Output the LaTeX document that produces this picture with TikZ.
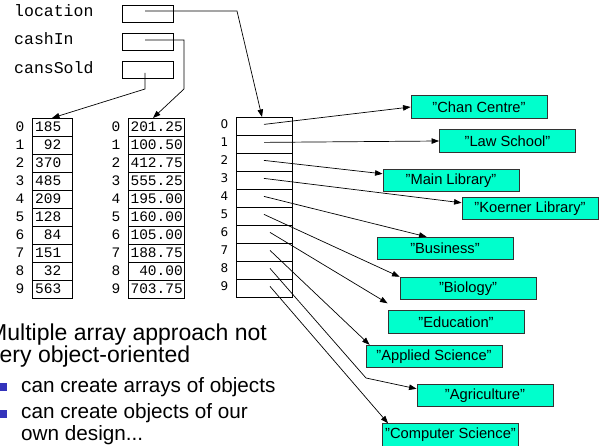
\documentclass[tikz,border=0pt]{standalone}
\usepackage{fontspec}
\setmainfont{Liberation Sans}
\setmonofont{Liberation Mono}
\newfontfamily\idxfont{DejaVu Sans}
\usetikzlibrary{arrows.meta}
\definecolor{strfill}{RGB}{0,255,204}
\definecolor{bulletblue}{RGB}{51,51,187}

\begin{document}
\begin{tikzpicture}[x=1pt, y=-1pt,
    cell/.style={draw=black, line width=0.8pt, minimum width=#1, minimum height=18pt, inner sep=0pt},
    varbox/.style={draw=black, line width=0.8pt, minimum width=51pt, minimum height=17pt, inner sep=0pt},
    mono/.style={font=\ttfamily\fontsize{14.5}{16}\selectfont, inner sep=0pt},
    varname/.style={font=\ttfamily\fontsize{16.5}{18}\selectfont, inner sep=0pt, anchor=base west},
    idx/.style={font=\idxfont\fontsize{12}{14}\selectfont, inner sep=0pt},
    strbox/.style={draw=black!80, line width=0.9pt, fill=strfill, minimum width=136pt, minimum height=22.5pt,
        inner sep=0pt, font=\fontsize{14.7}{16}\selectfont},
    ptr/.style={line width=0.7pt, -{Triangle[length=7.5pt, width=5.5pt]}},
    wire/.style={line width=0.7pt}]
    \useasboundingbox (0,0) rectangle (609,446);
    \clip (0,0) rectangle (609,446);

    % variables
    \node[varname] (nloc) at (14,17) {location};
    \node[varname] (ncash) at (14,45) {cashIn};
    \node[varname] (nsold) at (14,74) {cansSold};
    \node[varbox] (vloc) at (147.5,13.5) {};
    \node[varbox] (vcash) at (147.5,41.5) {};
    \node[varbox] (vsold) at (147.5,69.5) {};

    % the three arrays
    \foreach \i/\a/\b in {0/185/201.25, 1/92/100.50, 2/370/412.75, 3/485/555.25, 4/209/195.00,
                          5/128/160.00, 6/84/105.00, 7/151/188.75, 8/32/40.00, 9/563/703.75}{
        \node[cell=40pt, anchor=north] (c\i) at (52,118+18*\i) {};
        \node[mono, anchor=east] (cv\i) at (61.5,127+18*\i) {\a};
        \node[mono] (ci\i) at (20,127+18*\i) {\i};
        \node[cell=56pt, anchor=north] (m\i) at (156,118+18*\i) {};
        \node[mono, anchor=east] (mv\i) at (183,127+18*\i) {\b};
        \node[mono] (mi\i) at (116,127+18*\i) {\i};
        \node[cell=56pt, anchor=north] (l\i) at (264,117+18*\i) {};
        \node[idx] (li\i) at (224.5,124+18*\i) {\i};
    }
    \foreach \i in {0,...,5}
        \coordinate (p\i) at ([yshift=2pt]l\i.center);
    \foreach \i in {6,...,9}
        \coordinate (p\i) at ([xshift=6pt, yshift=2pt]l\i.center);

    % strings
    \node[strbox] (cc) at (479,107) {"Chan Centre"};
    \node[strbox] (ls) at (507.5,141) {"Law School"};
    \node[strbox] (ml) at (451,180.5) {"Main Library"};
    \node[strbox] (kl) at (530,208.5) {"Koerner Library"};
    \node[strbox] (bu) at (445,248.5) {"Business"};
    \node[strbox] (bi) at (468,288.5) {"Biology"};
    \node[strbox] (ed) at (456,322) {"Education"};
    \node[strbox] (as) at (434,356.5) {"Applied Science"};
    \node[strbox] (ag) at (485,395.5) {"Agriculture"};
    \node[strbox] (cs) at (450.5,435) {"Computer Science"};

    % references from the variables
    \coordinate (locA) at (237,11);
    \coordinate (cashA) at (184,40);
    \coordinate (cashB) at (184,89);
    \coordinate (soldA) at (145,89);
    \draw[ptr] ([xshift=-2.5pt, yshift=2.5pt]vloc.center) -- (locA) -- ([xshift=-2pt]l0.north);
    \draw[ptr] ([xshift=-2.5pt, yshift=1.5pt]vcash.center) -- (cashA) -- (cashB) -- ([xshift=-3pt]m0.north);
    \draw[ptr] ([xshift=-2.5pt, yshift=-3.5pt]vsold.center) -- (soldA) -- (c0.north);

    % references from location[]
    \coordinate (agbend) at (366,378);
    \draw[ptr] (p0) -- (cc.west);
    \draw[ptr] (p1) -- (ls.west);
    \draw[ptr] (p2) -- ([yshift=-5pt]ml.north west);
    \draw[ptr] (p3) -- ([yshift=-6pt]kl.north west);
    \draw[ptr] (p4) -- ([xshift=50pt]bu.north west);
    \draw[ptr] (p5) -- (bi.north west);
    \draw[ptr] (p6) -- ([yshift=7pt]ed.north west);
    \draw[ptr] (p7) -- ([xshift=4pt]as.north west);
    \draw[ptr] (p8) -- (agbend) -- ([yshift=-5pt]ag.north west);
    \draw[ptr] (p9) -- ([xshift=6pt]cs.north west);

    % slide text (base = last line)
    \node[anchor=base west, align=left, inner sep=0pt, font=\fontsize{23}{22.5}\selectfont] (txt) at (-12,362.5)
        {Multiple array approach not\\very object-oriented};
    \fill[bulletblue] (-1,382.5) rectangle (7,390.5);
    \fill[bulletblue] (-1,409.5) rectangle (7,417.5);
    \node[anchor=base west, inner sep=0pt, font=\fontsize{20.7}{22}\selectfont] (b1) at (21,392)
        {can create arrays of objects};
    \node[anchor=base west, align=left, inner sep=0pt, font=\fontsize{20.7}{22}\selectfont] (b2) at (21,440)
        {can create objects of our\\own design...};
\end{tikzpicture}
\end{document}
